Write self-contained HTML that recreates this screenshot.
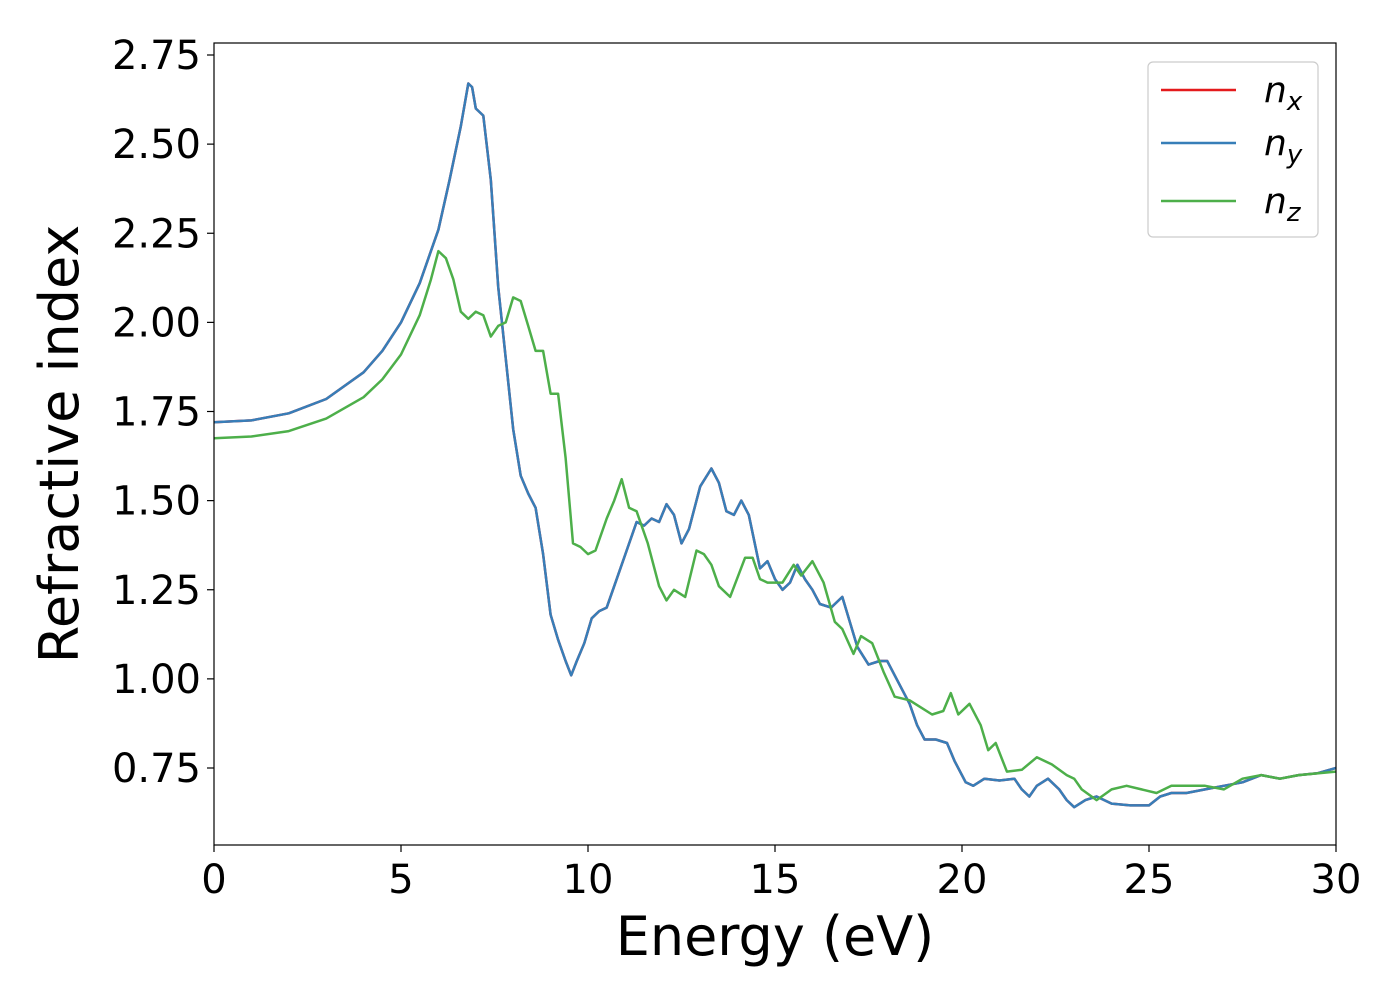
<!DOCTYPE html>
<html><head><meta charset="utf-8"><style>
body{margin:0;background:#fff;}
svg text{font-family:"DejaVu Sans","Liberation Sans",sans-serif;fill:#000;}
</style></head><body>
<svg id="chart" width="1400" height="1000" xmlns="http://www.w3.org/2000/svg">
<g id="plot"></g>
</svg>
<script>
const energyNx=[0,1,2,3,4,4.5,5,5.5,6,6.3,6.6,6.8,6.9,7.0,7.2,7.4,7.6,7.8,8.0,8.2,8.4,8.6,8.8,9.0,9.2,9.4,9.55,9.7,9.9,10.1,10.3,10.5,10.7,11.0,11.3,11.5,11.7,11.9,12.1,12.3,12.5,12.7,13.0,13.3,13.5,13.7,13.9,14.1,14.3,14.6,14.8,15.0,15.2,15.4,15.6,15.8,16.0,16.2,16.5,16.8,17.0,17.2,17.5,17.8,18.0,18.3,18.6,18.8,19.0,19.3,19.6,19.8,20.1,20.3,20.6,21,21.4,21.6,21.8,22.0,22.3,22.6,22.8,23.0,23.3,23.6,24.0,24.5,25.0,25.3,25.6,26,26.5,27,27.5,28,28.5,29,29.5,30];
const nxValues=[1.72,1.725,1.745,1.785,1.86,1.92,2.0,2.11,2.26,2.4,2.55,2.67,2.66,2.6,2.58,2.4,2.1,1.9,1.7,1.57,1.52,1.48,1.35,1.18,1.11,1.05,1.01,1.05,1.1,1.17,1.19,1.2,1.26,1.35,1.44,1.43,1.45,1.44,1.49,1.46,1.38,1.42,1.54,1.59,1.55,1.47,1.46,1.5,1.46,1.31,1.33,1.28,1.25,1.27,1.32,1.28,1.25,1.21,1.2,1.23,1.16,1.09,1.04,1.05,1.05,0.99,0.93,0.87,0.83,0.83,0.82,0.77,0.71,0.70,0.72,0.715,0.72,0.69,0.67,0.7,0.72,0.69,0.66,0.64,0.66,0.67,0.65,0.645,0.645,0.67,0.68,0.68,0.69,0.7,0.71,0.73,0.72,0.73,0.735,0.75];
const nyValues=nxValues.slice();
const energyNz=[0,1,2,3,4,4.5,5,5.5,5.8,6.0,6.2,6.4,6.6,6.8,7.0,7.2,7.4,7.6,7.8,8.0,8.2,8.4,8.6,8.8,9.0,9.2,9.4,9.6,9.8,10.0,10.2,10.5,10.7,10.9,11.1,11.3,11.6,11.9,12.1,12.3,12.6,12.9,13.1,13.3,13.5,13.8,14.2,14.4,14.6,14.8,15.2,15.5,15.7,16.0,16.3,16.6,16.8,17.1,17.3,17.6,17.9,18.2,18.6,18.9,19.2,19.5,19.7,19.9,20.2,20.5,20.7,20.9,21.2,21.6,22.0,22.4,22.8,23.0,23.2,23.6,24.0,24.4,24.8,25.2,25.6,26,26.5,27,27.5,28,28.5,29,30];
const nzValues=[1.675,1.68,1.695,1.73,1.79,1.84,1.91,2.02,2.12,2.2,2.18,2.12,2.03,2.01,2.03,2.02,1.96,1.99,2.0,2.07,2.06,1.99,1.92,1.92,1.8,1.8,1.62,1.38,1.37,1.35,1.36,1.45,1.5,1.56,1.48,1.47,1.38,1.26,1.22,1.25,1.23,1.36,1.35,1.32,1.26,1.23,1.34,1.34,1.28,1.27,1.27,1.32,1.29,1.33,1.27,1.16,1.14,1.07,1.12,1.1,1.02,0.95,0.94,0.92,0.9,0.91,0.96,0.9,0.93,0.87,0.8,0.82,0.74,0.745,0.78,0.76,0.73,0.72,0.69,0.66,0.69,0.7,0.69,0.68,0.7,0.7,0.7,0.69,0.72,0.73,0.72,0.73,0.74];
const xTicks=[0,5,10,15,20,25,30];
const yTicks=[0.75,1.00,1.25,1.50,1.75,2.00,2.25,2.50,2.75];
const yTickLabels=["0.75","1.00","1.25","1.50","1.75","2.00","2.25","2.50","2.75"];

const L=214,R=1336,T=43,B=845;
const xs=v=>L+(v-0)/30*(R-L);
const ys=v=>768-(v-0.75)*356.5;
const NS="http://www.w3.org/2000/svg";
const g=document.getElementById('plot');
function mk(tag,attrs,parent){const e=document.createElementNS(NS,tag);for(const k in attrs)e.setAttribute(k,attrs[k]);(parent||g).appendChild(e);return e;}

const clip=mk('clipPath',{id:'pc'});mk('rect',{x:L,y:T,width:R-L,height:B-T},clip);

function series(xa,ya,color,name){
  const pts=xa.map((x,i)=>xs(x).toFixed(1)+','+ys(ya[i]).toFixed(1)).join(' ');
  const p=mk('polyline',{points:pts,fill:'none',stroke:color,'stroke-width':2.5,'stroke-linejoin':'round','clip-path':'url(#pc)'});
  
  
}
series(energyNx,nxValues,'#e41a1c','nx-line');
series(energyNx,nyValues,'#377eb8','ny-line');
series(energyNz,nzValues,'#4daf4a','nz-line');

const frame=mk('rect',{x:L,y:T,width:R-L,height:B-T,fill:'none',stroke:'#000','stroke-width':1.2});



xTicks.forEach(t=>{
  const x=xs(t);
  mk('line',{x1:x,x2:x,y1:B,y2:B+7,stroke:'#000','stroke-width':1.2});
  const tx=mk('text',{x:x,y:B+48,'font-size':40,'text-anchor':'middle'});tx.textContent=t;
  
  
});
yTicks.forEach((t,i)=>{
  const y=ys(t);
  mk('line',{x1:L-7,x2:L,y1:y,y2:y,stroke:'#000','stroke-width':1.2});
  const tx=mk('text',{x:L-13,y:y+14,'font-size':40,'text-anchor':'end'});tx.textContent=yTickLabels[i];
  
  
});
const xt=mk('text',{x:(L+R)/2,y:955,'font-size':54,'text-anchor':'middle'});xt.textContent='Energy (eV)';


const yt=mk('text',{x:0,y:0,'font-size':54,'text-anchor':'middle',transform:'translate(78,444) rotate(-90)'});yt.textContent='Refractive index';



const lg=mk('g',{});


mk('rect',{x:1148,y:62,width:170,height:175,rx:5,fill:'#fff','fill-opacity':0.8,stroke:'#ccc','stroke-width':1.2},lg);
[['#e41a1c','x',90],['#377eb8','y',143],['#4daf4a','z',201]].forEach(([c,s,y])=>{
  const e=mk('g',{},lg);
  
  
  mk('line',{x1:1161,x2:1236,y1:y,y2:y,stroke:c,'stroke-width':2.5},e);
  const t=mk('text',{x:1264,y:y+12,'font-size':36,'font-style':'italic'},e);
  t.textContent='n';
  const sub=mk('tspan',{'font-size':26,dy:8},t);sub.textContent=s;
});
</script>
</body></html>
